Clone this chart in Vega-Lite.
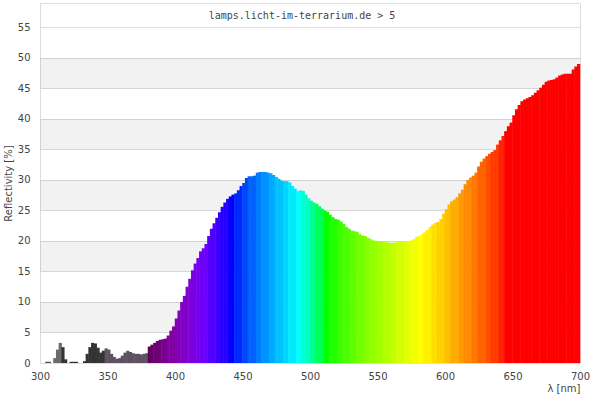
{
  "$schema": "https://vega.github.io/schema/vega-lite/v6.json",
  "width": 540,
  "height": 360,
  "autosize": "none",
  "padding": {"left": 40, "top": 3, "right": 20, "bottom": 37},
  "background": "white",
  "config": {"view": {"stroke": "#dddddd"}, "font": "DejaVu Sans"},
  "title": {"text": "lamps.licht-im-terrarium.de > 5", "font": "DejaVu Sans Mono", "fontSize": 10, "fontWeight": "normal", "color": "#444444", "anchor": "middle", "frame": "group", "baseline": "top", "offset": -18, "dx": -8},
  "datasets": {
    "bands": [{"lo": 5, "hi": 10}, {"lo": 15, "hi": 20}, {"lo": 25, "hi": 30}, {"lo": 35, "hi": 40}, {"lo": 45, "hi": 50}],
    "spec": [
      {"nm":301,"r":0},{"nm":303,"r":0},{"nm":305,"r":0.2},{"nm":307,"r":0.2},{"nm":309,"r":0},
      {"nm":311,"r":0.8},{"nm":313,"r":2.2},{"nm":315,"r":3.3},{"nm":317,"r":2.6},{"nm":319,"r":0.6},
      {"nm":321,"r":0},{"nm":323,"r":0.2},{"nm":325,"r":0.2},{"nm":327,"r":0.2},{"nm":329,"r":0},
      {"nm":331,"r":0},{"nm":333,"r":0.3},{"nm":335,"r":1.5},{"nm":337,"r":2.6},{"nm":339,"r":3.3},
      {"nm":341,"r":3.2},{"nm":343,"r":2.5},{"nm":345,"r":1.7},{"nm":347,"r":2.0},{"nm":349,"r":2.4},
      {"nm":351,"r":2.2},{"nm":353,"r":1.5},{"nm":355,"r":1.0},{"nm":357,"r":0.7},{"nm":359,"r":0.8},
      {"nm":361,"r":1.2},{"nm":363,"r":1.7},{"nm":365,"r":2.0},{"nm":367,"r":1.8},{"nm":369,"r":1.6},
      {"nm":371,"r":1.5},{"nm":373,"r":1.5},{"nm":375,"r":1.4},{"nm":377,"r":1.5},{"nm":379,"r":1.6},
      {"nm":381,"r":2.7},{"nm":383,"r":3.0},{"nm":385,"r":3.3},{"nm":387,"r":3.6},{"nm":389,"r":3.8},
      {"nm":391,"r":3.9},{"nm":393,"r":4.0},{"nm":395,"r":4.5},{"nm":397,"r":5.3},{"nm":399,"r":6.0},
      {"nm":401,"r":7.3},{"nm":403,"r":8.6},{"nm":405,"r":10.0},{"nm":407,"r":11.0},{"nm":409,"r":12.5},
      {"nm":411,"r":13.8},{"nm":413,"r":15.2},{"nm":415,"r":16.3},{"nm":417,"r":17.2},{"nm":419,"r":18.3},
      {"nm":421,"r":18.8},{"nm":423,"r":19.5},{"nm":425,"r":20.8},{"nm":427,"r":22.0},{"nm":429,"r":22.9},
      {"nm":431,"r":23.8},{"nm":433,"r":24.7},{"nm":435,"r":25.6},{"nm":437,"r":26.3},{"nm":439,"r":26.9},
      {"nm":441,"r":27.3},{"nm":443,"r":27.6},{"nm":445,"r":27.8},{"nm":447,"r":28.3},{"nm":449,"r":29.0},
      {"nm":451,"r":29.5},{"nm":453,"r":30.3},{"nm":455,"r":30.6},{"nm":457,"r":30.6},{"nm":459,"r":30.7},
      {"nm":461,"r":31.2},{"nm":463,"r":31.3},{"nm":465,"r":31.3},{"nm":467,"r":31.3},{"nm":469,"r":31.2},
      {"nm":471,"r":31.1},{"nm":473,"r":30.8},{"nm":475,"r":30.5},{"nm":477,"r":30.2},{"nm":479,"r":29.9},
      {"nm":481,"r":29.8},{"nm":483,"r":29.8},{"nm":485,"r":29.6},{"nm":487,"r":29.0},{"nm":489,"r":28.6},
      {"nm":491,"r":28.2},{"nm":493,"r":28.3},{"nm":495,"r":28.2},{"nm":497,"r":27.6},{"nm":499,"r":27.0},
      {"nm":501,"r":26.6},{"nm":503,"r":26.3},{"nm":505,"r":26.1},{"nm":507,"r":25.7},{"nm":509,"r":25.3},
      {"nm":511,"r":25.0},{"nm":513,"r":24.8},{"nm":515,"r":24.3},{"nm":517,"r":23.9},{"nm":519,"r":23.6},
      {"nm":521,"r":23.5},{"nm":523,"r":23.2},{"nm":525,"r":22.8},{"nm":527,"r":22.3},{"nm":529,"r":22.0},
      {"nm":531,"r":21.7},{"nm":533,"r":21.6},{"nm":535,"r":21.5},{"nm":537,"r":21.1},{"nm":539,"r":20.9},
      {"nm":541,"r":20.8},{"nm":543,"r":20.5},{"nm":545,"r":20.3},{"nm":547,"r":20.1},{"nm":549,"r":20.0},
      {"nm":551,"r":20.0},{"nm":553,"r":19.9},{"nm":555,"r":19.9},{"nm":557,"r":19.8},{"nm":559,"r":19.7},
      {"nm":561,"r":19.7},{"nm":563,"r":19.7},{"nm":565,"r":19.9},{"nm":567,"r":20.0},{"nm":569,"r":20.0},
      {"nm":571,"r":20.0},{"nm":573,"r":20.0},{"nm":575,"r":20.1},{"nm":577,"r":20.3},{"nm":579,"r":20.7},
      {"nm":581,"r":20.8},{"nm":583,"r":21.1},{"nm":585,"r":21.4},{"nm":587,"r":21.8},{"nm":589,"r":22.3},
      {"nm":591,"r":22.7},{"nm":593,"r":23.0},{"nm":595,"r":23.1},{"nm":597,"r":23.6},{"nm":599,"r":24.5},
      {"nm":601,"r":25.2},{"nm":603,"r":26.0},{"nm":605,"r":26.5},{"nm":607,"r":26.8},{"nm":609,"r":27.2},
      {"nm":611,"r":27.8},{"nm":613,"r":28.4},{"nm":615,"r":29.3},{"nm":617,"r":30.0},{"nm":619,"r":30.4},
      {"nm":621,"r":30.7},{"nm":623,"r":31.2},{"nm":625,"r":32.2},{"nm":627,"r":33.0},{"nm":629,"r":33.5},
      {"nm":631,"r":33.9},{"nm":633,"r":34.3},{"nm":635,"r":34.6},{"nm":637,"r":34.9},{"nm":639,"r":35.8},
      {"nm":641,"r":36.5},{"nm":643,"r":37.2},{"nm":645,"r":38.0},{"nm":647,"r":38.8},{"nm":649,"r":39.4},
      {"nm":651,"r":40.6},{"nm":653,"r":41.6},{"nm":655,"r":42.3},{"nm":657,"r":42.9},{"nm":659,"r":43.2},
      {"nm":661,"r":43.4},{"nm":663,"r":43.6},{"nm":665,"r":43.9},{"nm":667,"r":44.3},{"nm":669,"r":44.7},
      {"nm":671,"r":45.1},{"nm":673,"r":45.6},{"nm":675,"r":46.1},{"nm":677,"r":46.3},{"nm":679,"r":46.4},
      {"nm":681,"r":46.5},{"nm":683,"r":46.8},{"nm":685,"r":47.1},{"nm":687,"r":47.3},{"nm":689,"r":47.4},
      {"nm":691,"r":47.4},{"nm":693,"r":47.4},{"nm":695,"r":48.1},{"nm":697,"r":48.6},{"nm":699,"r":49.0}
    ]
  },
  "layer": [
    {
      "data": {"name": "bands"},
      "mark": {"type": "rect", "fill": "#000000", "opacity": 0.05},
      "encoding": {
        "y": {
          "field": "lo", "type": "quantitative",
          "scale": {"domain": [0, 59], "nice": false, "zero": true},
          "axis": {"title": "Reflectivity [%]", "values": [0, 5, 10, 15, 20, 25, 30, 35, 40, 45, 50, 55], "grid": true, "gridColor": "#dddddd", "ticks": false, "domain": false, "labelPadding": 10, "labelFontSize": 10, "labelColor": "#444444", "labelOverlap": false, "titleFontWeight": "normal", "titleFontSize": 10, "titleColor": "#444444", "titlePadding": 4}
        },
        "y2": {"field": "hi"}
      }
    },
    {
      "data": {"name": "spec"},
      "mark": {"type": "bar", "width": 3.2},
      "encoding": {
        "x": {
          "field": "nm", "type": "quantitative",
          "scale": {"domain": [300, 700], "nice": false, "zero": false, "padding": 0},
          "axis": {"title": "λ [nm]", "values": [300, 350, 400, 450, 500, 550, 600, 650, 700], "grid": false, "ticks": false, "domain": false, "labelPadding": 8, "labelFontSize": 10, "labelColor": "#444444", "labelFlush": false, "titleAnchor": "end", "titleFontWeight": "normal", "titleFontSize": 10, "titleColor": "#444444", "titlePadding": 2}
        },
        "y": {
          "field": "r", "type": "quantitative",
          "scale": {"domain": [0, 59], "nice": false},
          "axis": {"title": "Reflectivity [%]", "values": [0, 5, 10, 15, 20, 25, 30, 35, 40, 45, 50, 55], "grid": true, "gridColor": "#dddddd", "ticks": false, "domain": false, "labelPadding": 10, "labelFontSize": 10, "labelColor": "#444444", "labelOverlap": false, "titleFontWeight": "normal", "titleFontSize": 10, "titleColor": "#444444", "titlePadding": 4}
        },
        "color": {
          "field": "nm", "type": "quantitative", "legend": null,
          "scale": {
            "type": "threshold",
            "domain": [310, 316, 348, 380, 385, 390, 395, 400, 405, 410, 415, 420, 425, 430, 435, 440, 445, 450, 455, 460, 465, 470, 475, 480, 485, 490, 495, 500, 505, 510, 515, 520, 525, 530, 535, 540, 545, 550, 555, 560, 565, 570, 575, 580, 585, 590, 595, 600, 605, 610, 615, 620, 625, 630, 635, 640, 645],
            "range": ["#555555", "#6a6a6a", "#333333", "#5e5262", "#610061", "#6f0077", "#79008d", "#8000a1", "#8300b5", "#8200c8", "#7e00db", "#7600ed", "#6a00ff", "#5400ff", "#3d00ff", "#2300ff", "#0000ff", "#0028ff", "#0046ff", "#0061ff", "#007bff", "#0093ff", "#00a9ff", "#00c0ff", "#00d5ff", "#00eaff", "#00ffff", "#00ffcb", "#00ff93", "#00ff54", "#00ff00", "#1fff00", "#36ff00", "#4aff00", "#5eff00", "#70ff00", "#81ff00", "#93ff00", "#a3ff00", "#b3ff00", "#c3ff00", "#d2ff00", "#e1ff00", "#f0ff00", "#ffff00", "#ffef00", "#ffdf00", "#ffcf00", "#ffbe00", "#ffad00", "#ff9b00", "#ff8900", "#ff7700", "#ff6300", "#ff4f00", "#ff3900", "#ff2100", "#ff0000"]
          }
        }
      }
    }
  ]
}
